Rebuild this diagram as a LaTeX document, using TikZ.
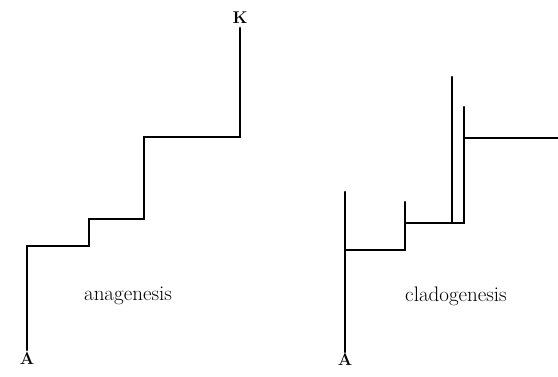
\documentclass[tikz,border=0pt]{standalone}
\usepackage{tikz}
\usetikzlibrary{calc}

\begin{document}
\begin{tikzpicture}[x=1pt,y=1pt,
    lineage/.style={line width=2.8pt,line cap=round,line join=miter},
    branch/.style={line width=2.2pt,line cap=round,line join=miter},
    tip/.style={font=\fontsize{17}{19}\selectfont\bfseries,inner sep=0pt},
    mode/.style={font=\fontsize{21}{23}\selectfont,inner sep=0pt}]
  \useasboundingbox (0,0) rectangle (558,376);
  % anagenesis
  \coordinate (a0) at (27,26);
  \coordinate (a1) at (27,130);
  \coordinate (a2) at (89,130);
  \coordinate (a3) at (89,157);
  \coordinate (a4) at (144,157);
  \coordinate (a5) at (144,239);
  \coordinate (a6) at (240,239);
  \coordinate (a7) at (240,348);
  \draw[lineage] (a0) -- (a1) -- (a2) -- (a3) -- (a4) -- (a5) -- (a6) -- (a7);
  \node[tip] (startA) at (27,17) {A};
  \node[tip] (endK) at (240,358) {K};
  \node[mode] (ana) at (128,80) {anagenesis};
  % cladogenesis
  \coordinate (c0) at (345,24);
  \coordinate (c1) at (345,126);
  \coordinate (c2) at (345,184);
  \coordinate (c3) at (405,126);
  \coordinate (c4) at (405,153);
  \coordinate (c5) at (405,174);
  \coordinate (c6) at (452,153);
  \coordinate (c7) at (452,299);
  \coordinate (c8) at (464,153);
  \coordinate (c9) at (464,238);
  \coordinate (c10) at (464,269);
  \coordinate (c11) at (558,238);
  \draw[branch] (c0) -- (c2);
  \draw[branch] (c1) -- (c3) -- (c5);
  \draw[branch] (c4) -- (c8) -- (c10);
  \draw[branch] (c6) -- (c7);
  \draw[branch] (c9) -- (c11);
  \node[tip] (startA2) at (345,16) {A};
  \node[mode] (clado) at (456,80) {cladogenesis};
\end{tikzpicture}
\end{document}
